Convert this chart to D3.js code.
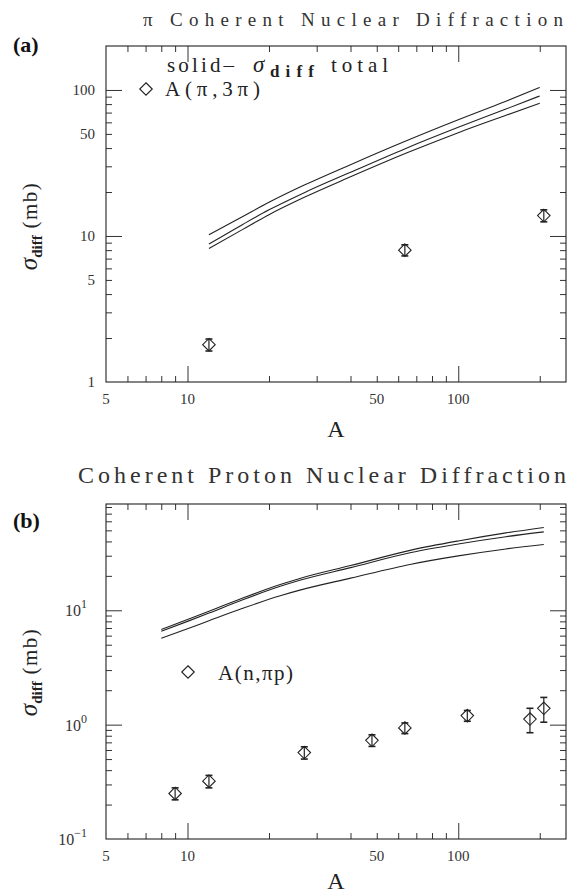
<!DOCTYPE html>
<html><head><meta charset="utf-8">
<script src="https://cdn.jsdelivr.net/npm/d3@7"></script>
<style>body{margin:0;background:#fff} svg{display:block}</style>
</head><body>
<script>
// ---------------- DATA ----------------
const xTickValues = [5, 10, 50, 100];
const xTickLabels = ["5", "10", "50", "100"];
const xMinorTicks = [6, 7, 8, 9, 20, 30, 40, 50, 60, 70, 80, 90, 200];
const xMajorTicks = [10, 100];

// panel (a)
const aYTickValues = [1, 5, 10, 50, 100];
const aYTickLabels = ["1", "5", "10", "50", "100"];
const aYMinorTicks = [2, 3, 4, 5, 6, 7, 8, 9, 20, 30, 40, 50, 60, 70, 80, 90];
const aYMajorTicks = [10, 100];
const aPointA = [12, 63.5, 207];
const aPointSigma = [1.8, 8.0, 13.8];
const aPointErr = [0.17, 0.7, 1.3];
const aCurveA = [12, 16, 20, 27, 40, 64, 100, 150, 200];
const aCurveHigh = [10.2, 13.6, 17.0, 22.3, 30.8, 44.7, 62.5, 83.7, 104];
const aCurveMid = [8.8, 12.0, 15.1, 19.8, 27.3, 39.8, 55.5, 74, 91];
const aCurveLow = [8.2, 11.1, 14.0, 18.4, 25.4, 36.8, 51, 67, 81];

// panel (b)
const bYTickValues = [0.1, 1, 10];
const bYTickExponents = ["−1", "0", "1"];
const bYMinorTicks = [0.2, 0.3, 0.4, 0.5, 0.6, 0.7, 0.8, 0.9, 2, 3, 4, 5, 6, 7, 8, 9, 20, 30, 40, 50, 60, 70, 80];
const bYMajorTicks = [1, 10];
const bPointA = [9, 12, 27, 48, 63.5, 108, 184, 207];
const bPointSigma = [0.25, 0.32, 0.57, 0.73, 0.935, 1.2, 1.12, 1.39];
const bPointErr = [0.03, 0.04, 0.07, 0.085, 0.1, 0.13, 0.27, 0.34];
const bCurveA = [8, 10, 12, 16, 22, 26, 40, 67, 100, 150, 207];
const bCurveHigh = [6.8, 8.3, 9.8, 12.8, 16.8, 19.0, 24.6, 33.6, 40.4, 47.5, 53];
const bCurveMid = [6.57, 8.0, 9.45, 12.35, 16.2, 18.3, 23.6, 32.0, 38.0, 44.0, 48.5];
const bCurveLow = [5.7, 6.9, 8.1, 10.4, 13.4, 15.0, 19.1, 25.3, 29.9, 34.4, 37.6];

// ---------------- DRAWING ----------------
const serif = "'Liberation Serif', 'Times New Roman', serif";
const ink = "#222";
const svg = d3.select("body").append("svg").attr("width", 571).attr("height", 893);

function panel(cfg) {
  const x = d3.scaleLog().domain(cfg.xDomain).range([cfg.left, cfg.right]);
  const y = d3.scaleLog().domain(cfg.yDomain).range([cfg.bottom, cfg.top]);
  const g = svg.append("g");
  const clean = sel => {
    sel.select(".domain").remove();
    sel.selectAll("text").remove();
    sel.selectAll("line").attr("stroke", "#333").attr("stroke-width", 1);
  };
  const tk = (axisFn, scale, vals, size, tr) =>
    g.append("g").attr("transform", tr)
      .call(axisFn(scale).tickValues(vals).tickSize(-size).tickSizeOuter(0)).call(clean);
  tk(d3.axisBottom, x, xMinorTicks, 6, `translate(0,${cfg.bottom})`);
  tk(d3.axisBottom, x, xMajorTicks, 16, `translate(0,${cfg.bottom})`);
  tk(d3.axisTop, x, xMinorTicks, 6, `translate(0,${cfg.top})`);
  tk(d3.axisTop, x, xMajorTicks, 16, `translate(0,${cfg.top})`);
  tk(d3.axisLeft, y, cfg.yMinor, 6, `translate(${cfg.left},0)`);
  tk(d3.axisLeft, y, cfg.yMajor, 16, `translate(${cfg.left},0)`);
  tk(d3.axisRight, y, cfg.yMinor, 6, `translate(${cfg.right},0)`);
  tk(d3.axisRight, y, cfg.yMajor, 16, `translate(${cfg.right},0)`);

  g.append("rect").attr("x", cfg.left).attr("y", cfg.top)
    .attr("width", cfg.right - cfg.left).attr("height", cfg.bottom - cfg.top)
    .attr("fill", "none").attr("stroke", ink).attr("stroke-width", 1.1);

  // x tick labels
  g.selectAll(null).data(xTickValues).join("text")
    .attr("x", d => x(d)).attr("y", cfg.bottom + cfg.xLabelDy)
    .attr("text-anchor", "middle").attr("font-family", serif).attr("font-size", 15).attr("fill", "#333")
    .text((d, i) => xTickLabels[i]);

  // x axis title
  g.append("text").attr("x", (cfg.left + cfg.right) / 2).attr("y", cfg.xTitleY)
    .attr("text-anchor", "middle").attr("font-family", serif).attr("font-size", 24).attr("fill", ink).text("A");

  // y axis title
  const yt = g.append("text").attr("transform", `translate(37,${cfg.yTitleC}) rotate(-90)`)
    .attr("text-anchor", "middle").attr("font-family", serif).attr("fill", ink);
  yt.append("tspan").attr("font-size", 25).attr("font-style", "italic").text("σ");
  yt.append("tspan").attr("font-size", 15).attr("font-weight", "bold").attr("dy", 5).text("diff");
  yt.append("tspan").attr("font-size", 21).attr("dy", -5).attr("letter-spacing", 1.5).text("  (mb)");

  // panel letter & title
  g.append("text").attr("x", 13).attr("y", cfg.letterY).attr("font-family", serif)
    .attr("font-weight", "bold").attr("font-size", 22).attr("fill", "#111").text(cfg.letter);
  g.append("text").attr("x", cfg.titleX).attr("y", cfg.titleY).attr("font-family", serif)
    .attr("font-size", cfg.titleSize).attr("fill", "#333").attr("textLength", cfg.titleLen)
    .attr("lengthAdjust", "spacing").text(cfg.title);

  // curves
  const line = d3.line().x(d => x(d[0])).y(d => y(d[1])).curve(d3.curveMonotoneX);
  cfg.curves.forEach(vals => {
    g.append("path").datum(cfg.curveA.map((a, i) => [a, vals[i]]))
      .attr("d", line).attr("fill", "none").attr("stroke", ink).attr("stroke-width", 1.1);
  });

  // points with error bars
  const diamond = d3.symbol().type(d3.symbolDiamond2).size(100);
  const pts = cfg.pA.map((a, i) => ({a, s: cfg.pS[i], e: cfg.pE[i]}));
  const pg = g.selectAll(null).data(pts).join("g");
  pg.append("line").attr("x1", d => x(d.a)).attr("x2", d => x(d.a))
    .attr("y1", d => y(d.s - d.e)).attr("y2", d => y(d.s + d.e)).attr("stroke", ink).attr("stroke-width", 1.2);
  [d => d.s - d.e, d => d.s + d.e].forEach(f => {
    pg.append("line").attr("x1", d => x(d.a) - 3.5).attr("x2", d => x(d.a) + 3.5)
      .attr("y1", d => y(f(d))).attr("y2", d => y(f(d))).attr("stroke", ink).attr("stroke-width", 1.6);
  });
  pg.append("path").attr("d", diamond).attr("transform", d => `translate(${x(d.a)},${y(d.s)})`)
    .attr("fill", "none").attr("stroke", ink).attr("stroke-width", 1.1);

  return {x, y, g, diamond};
}

// ---- panel (a)
const pa = panel({
  left: 106, right: 566, top: 46, bottom: 382,
  xDomain: [5, 250], yDomain: [1, 200],
  yMinor: aYMinorTicks, yMajor: aYMajorTicks,
  xLabelDy: 22, xTitleY: 437, yTitleC: 226,
  letter: "(a)", letterY: 52,
  title: "π Coherent Nuclear Diffraction", titleX: 143, titleY: 26, titleSize: 19, titleLen: 420,
  curveA: aCurveA, curves: [aCurveHigh, aCurveMid, aCurveLow],
  pA: aPointA, pS: aPointSigma, pE: aPointErr
});
pa.g.selectAll(null).data(aYTickValues).join("text")
  .attr("x", 95).attr("y", d => pa.y(d) + 5).attr("text-anchor", "end")
  .attr("font-family", serif).attr("font-size", 15).attr("fill", "#333")
  .text((d, i) => aYTickLabels[i]);
// legend (a)
pa.g.append("path").attr("d", pa.diamond).attr("transform", "translate(146,89)")
  .attr("fill", "none").attr("stroke", ink).attr("stroke-width", 1.1);
pa.g.append("text").attr("x", 165).attr("y", 96).attr("font-family", serif).attr("font-size", 21)
  .attr("fill", ink).attr("textLength", 95).attr("lengthAdjust", "spacing").text("A(π,3π)");
pa.g.append("text").attr("x", 167).attr("y", 72).attr("font-family", serif).attr("font-size", 21)
  .attr("fill", ink).attr("textLength", 67).attr("lengthAdjust", "spacing").text("solid–");
pa.g.append("text").attr("x", 253).attr("y", 72).attr("font-family", serif).attr("font-size", 23)
  .attr("font-style", "italic").attr("fill", ink).text("σ");
pa.g.append("text").attr("x", 270).attr("y", 77).attr("font-family", serif).attr("font-size", 17)
  .attr("font-weight", "bold").attr("fill", ink).attr("textLength", 44).attr("lengthAdjust", "spacing").text("diff");
pa.g.append("text").attr("x", 331).attr("y", 72).attr("font-family", serif).attr("font-size", 21)
  .attr("fill", ink).attr("textLength", 57).attr("lengthAdjust", "spacing").text("total");

// ---- panel (b)
const pb = panel({
  left: 106, right: 566, top: 504, bottom: 839,
  xDomain: [5, 250], yDomain: [0.1, 85],
  yMinor: bYMinorTicks, yMajor: bYMajorTicks,
  xLabelDy: 22, xTitleY: 889, yTitleC: 672,
  letter: "(b)", letterY: 528,
  title: "Coherent Proton Nuclear Diffraction", titleX: 78, titleY: 483, titleSize: 24, titleLen: 488,
  curveA: bCurveA, curves: [bCurveHigh, bCurveMid, bCurveLow],
  pA: bPointA, pS: bPointSigma, pE: bPointErr
});
const bl = pb.g.selectAll(null).data(bYTickValues).join("text")
  .attr("x", 87).attr("y", d => pb.y(d) + 6).attr("text-anchor", "end")
  .attr("font-family", serif).attr("font-size", 16).attr("fill", "#333");
bl.append("tspan").text("10");
bl.append("tspan").attr("font-size", 12).attr("dy", -8).text((d, i) => bYTickExponents[i]);
// legend (b)
pb.g.append("path").attr("d", pb.diamond).attr("transform", "translate(188,672)")
  .attr("fill", "none").attr("stroke", ink).attr("stroke-width", 1.1);
pb.g.append("text").attr("x", 218).attr("y", 680).attr("font-family", serif).attr("font-size", 21)
  .attr("fill", ink).attr("textLength", 75).attr("lengthAdjust", "spacing").text("A(n,πp)");
</script>
</body></html>
